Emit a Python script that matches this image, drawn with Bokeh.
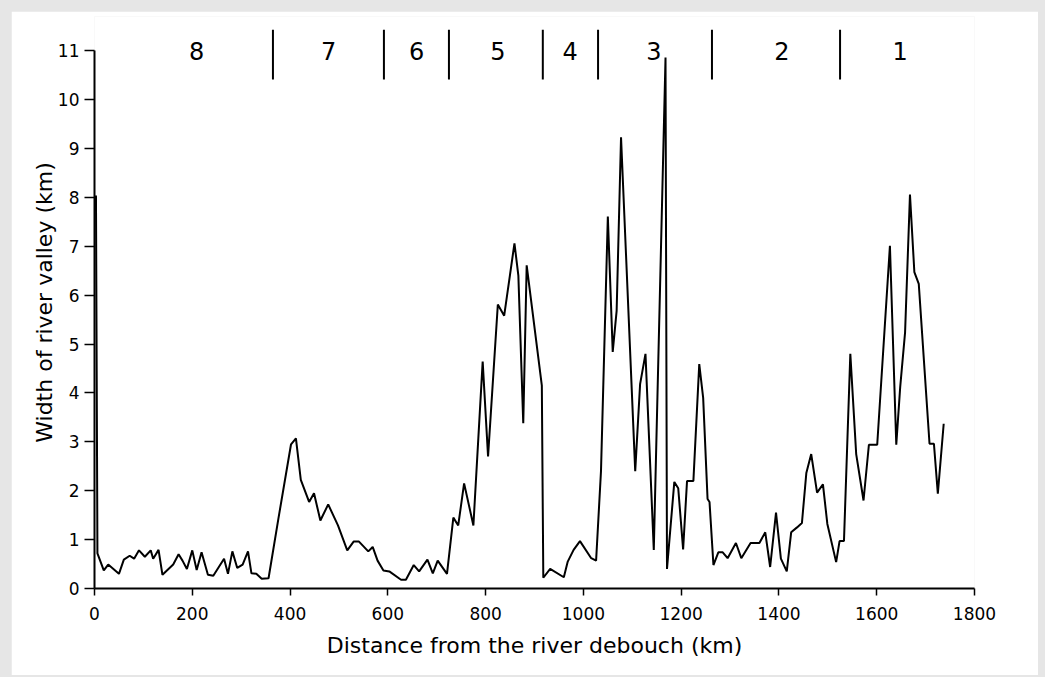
from bokeh.plotting import figure
from bokeh.models import Range1d, FixedTicker
from bokeh.core.properties import value
from bokeh.embed import file_html
from bokeh.resources import INLINE

# ---- data ----
distance_km = [3, 6, 19, 28, 50, 60, 72, 81, 91, 103, 115, 120, 131, 139, 161, 172, 180, 189,
               200, 209, 219, 232, 243, 265, 273, 282, 292, 303, 314, 321, 331, 342, 356, 376,
               402, 412, 422, 439, 449, 462, 478, 498, 517, 530, 541, 560, 569, 579, 591, 603,
               627, 637, 653, 664, 681, 692, 702, 721, 734, 744, 756, 775, 794, 805, 825, 838,
               859, 867, 877, 884, 915, 918, 932, 960, 968, 980, 993, 1016, 1026, 1036, 1050,
               1060, 1068, 1077, 1106, 1116, 1127, 1144, 1168, 1171, 1186, 1194, 1204, 1212,
               1225, 1237, 1245, 1254, 1258, 1266, 1276, 1285, 1295, 1312, 1323, 1342, 1360,
               1372, 1382, 1394, 1404, 1416, 1425, 1437, 1447, 1456, 1466, 1478, 1490, 1499,
               1517, 1524, 1533, 1546, 1558, 1573, 1584, 1601, 1627, 1640, 1648, 1658, 1668,
               1677, 1686, 1708, 1717, 1725, 1737]
valley_width_km = [8.04, 0.72, 0.37, 0.49, 0.30, 0.59, 0.67, 0.61, 0.78, 0.65, 0.78, 0.61, 0.79,
                   0.28, 0.49, 0.70, 0.57, 0.40, 0.78, 0.38, 0.74, 0.28, 0.26, 0.61, 0.30, 0.76,
                   0.42, 0.49, 0.76, 0.31, 0.30, 0.20, 0.21, 1.42, 2.95, 3.07, 2.22, 1.77, 1.95,
                   1.39, 1.72, 1.29, 0.78, 0.96, 0.96, 0.76, 0.85, 0.57, 0.37, 0.35, 0.18, 0.18,
                   0.48, 0.35, 0.59, 0.31, 0.57, 0.30, 1.45, 1.29, 2.15, 1.29, 4.64, 2.70, 5.81,
                   5.58, 7.06, 6.40, 3.38, 6.61, 4.15, 0.22, 0.40, 0.23, 0.55, 0.79, 0.97, 0.62,
                   0.57, 2.40, 7.61, 4.84, 5.68, 9.23, 2.40, 4.18, 4.80, 0.79, 10.86, 0.40, 2.18,
                   2.05, 0.80, 2.20, 2.20, 4.59, 3.90, 1.83, 1.77, 0.48, 0.74, 0.74, 0.62, 0.93,
                   0.62, 0.93, 0.93, 1.15, 0.44, 1.55, 0.61, 0.35, 1.15, 1.25, 1.34, 2.36, 2.75,
                   1.96, 2.13, 1.32, 0.54, 0.97, 0.97, 4.80, 2.75, 1.80, 2.94, 2.94, 7.01, 2.94,
                   4.12, 5.24, 8.06, 6.47, 6.23, 2.96, 2.96, 1.94, 3.37]

section_labels = ["8", "7", "6", "5", "4", "3", "2", "1"]
section_label_km = [209, 479, 659, 825, 973, 1144, 1406, 1648]
section_bounds_km = [365, 592, 725, 917, 1030, 1263, 1525]

x_ticks = [0, 200, 400, 600, 800, 1000, 1200, 1400, 1600, 1800]
y_ticks = [0, 1, 2, 3, 4, 5, 6, 7, 8, 9, 10, 11]

FONT = "DejaVu Sans"

p = figure(width=1027, height=664, output_backend="svg", toolbar_location=None,
           x_range=Range1d(0, 1800), y_range=Range1d(0, 11.7),
           min_border_left=83, min_border_right=64, min_border_top=5, min_border_bottom=87)
p.background_fill_color = "white"
p.border_fill_color = "white"
p.outline_line_color = None
p.grid.visible = False

p.line(distance_km, valley_width_km, line_color="black", line_width=2)

p.segment(x0=section_bounds_km, y0=[10.41] * len(section_bounds_km),
          x1=section_bounds_km, y1=[11.43] * len(section_bounds_km),
          line_color="black", line_width=2)
p.text(x=section_label_km, y=[11.0] * len(section_label_km), text=section_labels,
       text_font=value(FONT), text_font_size="24px", text_align="center",
       text_baseline="middle", text_color="black")

xa = p.xaxis[0]
xa.ticker = FixedTicker(ticks=x_ticks)
xa.bounds = (0, 1800)
xa.axis_label = "Distance from the river debouch (km)"
ya = p.yaxis[0]
ya.ticker = FixedTicker(ticks=y_ticks)
ya.bounds = (0, 11)
ya.axis_label = "Width of river valley (km)"

for ax in (xa, ya):
    ax.axis_line_color = "black"
    ax.axis_line_width = 2
    ax.major_tick_line_color = "black"
    ax.major_tick_line_width = 1.5
    ax.major_tick_in = 0
    ax.minor_tick_line_color = None
    ax.major_label_text_font = FONT
    ax.major_label_text_font_size = "17px"
    ax.major_label_text_color = "black"
    ax.axis_label_text_font = FONT
    ax.axis_label_text_font_size = "22px"
    ax.axis_label_text_font_style = "normal"
    ax.axis_label_text_color = "black"

xa.major_tick_out = 7
xa.major_label_standoff = 11
xa.axis_label_standoff = 10
ya.major_tick_out = 10
ya.major_label_standoff = 5
ya.axis_label_standoff = -2

html = file_html(p, INLINE)
html = html.replace("</head>",
                    "<style>html, body { background-color: #e6e6e6 !important; }"
                    " body { padding: 11px 0 0 11px !important; }</style></head>", 1)
open("out.html", "w").write(html)
